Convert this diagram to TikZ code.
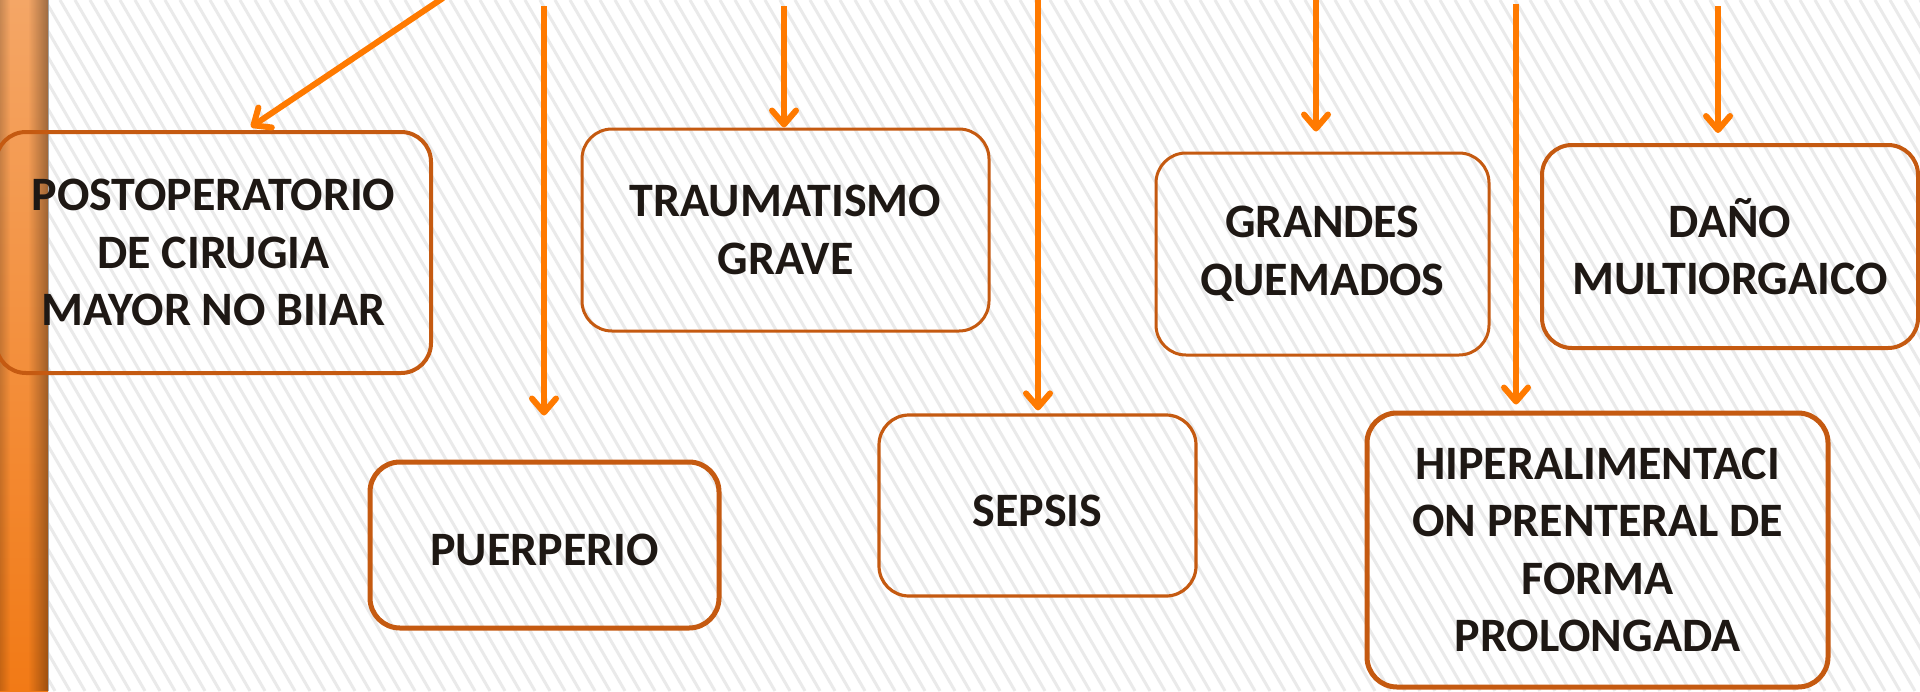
\documentclass[tikz,border=0pt]{standalone}
\usepackage{fontspec}
\setmainfont{Carlito}
\usetikzlibrary{arrows.meta,fadings}
\definecolor{boxc}{RGB}{197,90,17}
\definecolor{arrc}{RGB}{255,122,0}
\definecolor{txt}{RGB}{30,24,20}
\definecolor{stripe}{RGB}{234,234,234}
\tikzfading[name=fadeR, left color=transparent!0, right color=transparent!100]
\tikzfading[name=fadeL, left color=transparent!100, right color=transparent!0]
\begin{document}
\begin{tikzpicture}[x=0.5pt,y=-0.5pt,
  box/.style={draw=boxc, rounded corners=15pt, align=center,
    font=\fontsize{24}{28.8}\selectfont\bfseries, text=txt, inner sep=0pt,
    execute at begin node={\rule{0pt}{21pt}}},
  arr/.style={draw=arrc, line width=3pt, -{Straight Barb[length=7pt,width=12pt,round]}}]
\useasboundingbox (0,0) rectangle (1920,691);
\fill[white] (0,0) rectangle (1920,691);
\begin{scope}
\clip (0,0) rectangle (1920,691);
\foreach \x in {-420,-405,...,1920} \draw[stripe, line width=1.5pt] (\x,0) -- ++(400,691);
\end{scope}
% left bar
\shade[top color={rgb,255:red,244;green,166;blue,102}, bottom color={rgb,255:red,242;green,122;blue,22}] (0,0) rectangle (48,691);
\fill[black, opacity=0.35, path fading=fadeL] (28,0) rectangle (48,691);
\fill[black, opacity=0.18, path fading=fadeR] (0,0) rectangle (10,691);
\draw[gray!70, line width=0.5pt] (48.5,0) -- (48.5,691);
% boxes
\node[box, line width=2pt, minimum width=217.5pt, minimum height=120.5pt] (postop) at (213.5,252.5)
  {POSTOPERATORIO\\DE CIRUGIA\\MAYOR NO BIIAR};
\node[box, line width=1.5pt, minimum width=203.5pt, minimum height=101pt] (trauma) at (785.5,230)
  {TRAUMATISMO\\GRAVE};
\node[box, line width=1.5pt, minimum width=166.5pt, minimum height=101pt] (grandes) at (1322.5,254)
  {GRANDES\\QUEMADOS};
\node[box, line width=2pt, minimum width=188pt, minimum height=101.5pt] (dano) at (1730,246.5)
  {DAÑO\\MULTIORGAICO};
\node[box, line width=2.5pt, minimum width=174.5pt, minimum height=83pt] (puer) at (544.5,545)
  {PUERPERIO};
\node[box, line width=1.6pt, minimum width=158.5pt, minimum height=90.5pt] (sepsis) at (1037.5,505.5)
  {SEPSIS};
\node[box, line width=2.5pt, minimum width=230.5pt, minimum height=137pt] (hiper) at (1597.5,550)
  {HIPERALIMENTACI\\ON PRENTERAL DE\\FORMA\\PROLONGADA};
% arrow start points
\coordinate (sa) at (443,-2);
\coordinate (ea) at (251,127);
\coordinate (sb) at (544,6);
\coordinate (sc) at (784,6);
\coordinate (sd) at (1038,-2);
\coordinate (se) at (1316,-2);
\coordinate (sf) at (1516,4);
\coordinate (sg) at (1718,6);
% arrows
\draw[arr] (sa) -- (ea);
\draw[arr, shorten >=22pt] (sb) -- (sb |- puer.north);
\draw[arr] (sc) -- (sc |- trauma.north);
\draw[arr, shorten >=1.5pt] (sd) -- (sd |- sepsis.north);
\draw[arr, shorten >=10pt] (se) -- (se |- grandes.north);
\draw[arr, shorten >=3pt] (sf) -- (sf |- hiper.north);
\draw[arr, shorten >=5pt] (sg) -- (sg |- dano.north);
\end{tikzpicture}
\end{document}
